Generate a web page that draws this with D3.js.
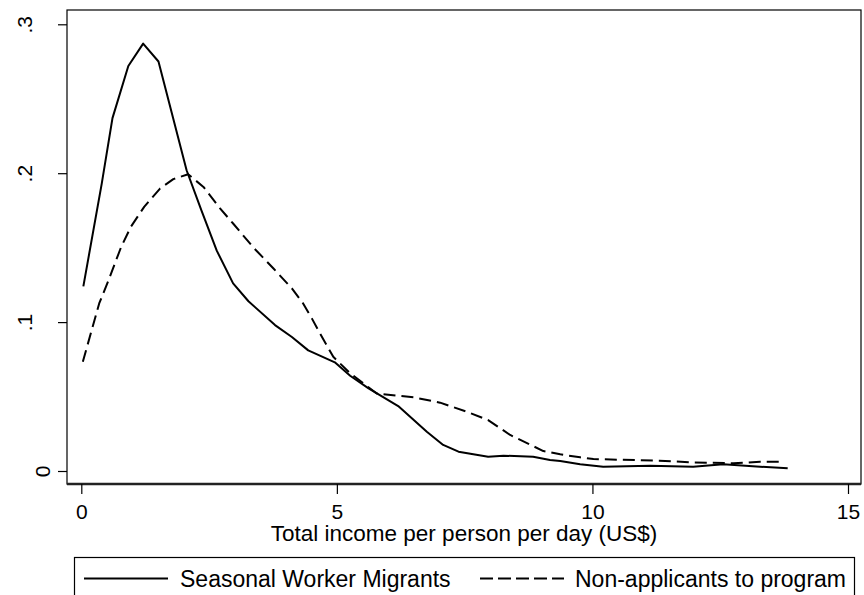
<!DOCTYPE html>
<html>
<head>
<meta charset="utf-8">
<script src="https://cdn.jsdelivr.net/npm/d3@7/dist/d3.min.js"></script>
<style>
  html, body { margin: 0; padding: 0; background: #fff; }
  svg { display: block; font-family: "Liberation Sans", Arial, Helvetica, sans-serif; }
</style>
</head>
<body>
<svg id="chart" width="864" height="595"></svg>
<script>
// Kernel density of total income per person per day (US$)
const swmX = [0.04, 0.40, 0.61, 0.92, 1.21, 1.51, 2.06, 2.35, 2.65, 2.97, 3.27, 3.79, 4.12, 4.44, 4.96, 5.26, 5.62, 6.20, 6.76, 7.08, 7.38, 7.96, 8.26, 8.84, 9.17, 9.37, 9.76, 10.21, 11.13, 11.97, 12.56, 13.28, 13.82];
const swmY = [0.124, 0.193, 0.237, 0.272, 0.287, 0.275, 0.202, 0.175, 0.148, 0.126, 0.114, 0.098, 0.090, 0.081, 0.073, 0.064, 0.0555, 0.0436, 0.0264, 0.0175, 0.013, 0.0096, 0.0103, 0.0096, 0.0074, 0.0067, 0.0045, 0.0029, 0.0036, 0.0029, 0.0045, 0.0029, 0.0018];

const nonX = [0.03, 0.35, 0.52, 0.78, 0.97, 1.23, 1.54, 1.80, 2.09, 2.39, 2.71, 2.97, 3.37, 3.76, 4.12, 4.34, 4.51, 4.67, 4.93, 5.26, 5.78, 6.50, 7.02, 7.54, 7.96, 8.39, 9.04, 9.37, 9.76, 10.02, 11.31, 11.97, 12.76, 13.28, 13.73];
const nonY = [0.0734, 0.1125, 0.127, 0.1505, 0.164, 0.1774, 0.1897, 0.196, 0.1993, 0.1908, 0.1765, 0.1662, 0.150, 0.136, 0.1226, 0.1125, 0.1025, 0.0924, 0.0767, 0.0656, 0.0521, 0.0495, 0.0459, 0.0398, 0.0342, 0.0242, 0.0134, 0.0112, 0.0092, 0.008, 0.0069, 0.0058, 0.0052, 0.0062, 0.0062];

const xTicks = [0, 5, 10, 15];
const yTicks = [0, 0.1, 0.2, 0.3];
const yTickLabels = ["0", ".1", ".2", ".3"];
const seriesNames = ["Seasonal Worker Migrants", "Non-applicants to program"];
const xTitle = "Total income per person per day (US$)";

const svg = d3.select("#chart");

// plot region
const frame = { left: 67, top: 10, right: 861, bottom: 484 };

const x = d3.scaleLinear().domain([0, 15]).range([81.3, 848]);
const y = d3.scaleLinear().domain([0, 0.3]).range([471, 24.3]);

// plot region border
svg.append("rect")
  .attr("x", frame.left).attr("y", frame.top)
  .attr("width", frame.right - frame.left)
  .attr("height", frame.bottom - frame.top)
  .attr("fill", "none").attr("stroke", "#000").attr("stroke-width", 1.2);

// x axis
const xAxis = svg.append("g")
  .attr("transform", `translate(0,${frame.bottom})`)
  .call(d3.axisBottom(x).tickValues(xTicks).tickSize(10).tickPadding(10).tickFormat(d3.format("d")));
xAxis.select(".domain").attr("d", `M${frame.left},0H${frame.right}`).attr("stroke", "#222").attr("stroke-width", 2.4);
xAxis.selectAll(".tick line").attr("stroke", "#000").attr("stroke-width", 1.2);
xAxis.selectAll(".tick text")
  .attr("font-size", 21).attr("fill", "#000")
  .attr("font-family", "Liberation Sans, Arial, sans-serif");

// y axis
const yAxis = svg.append("g")
  .attr("transform", `translate(${frame.left},0)`)
  .call(d3.axisLeft(y).tickValues(yTicks).tickSize(9).tickFormat((d, i) => yTickLabels[i]));
yAxis.select(".domain").remove();
yAxis.selectAll(".tick line").attr("stroke", "#000").attr("stroke-width", 1.2);
yAxis.selectAll(".tick text")
  .attr("font-size", 21).attr("fill", "#000")
  .attr("font-family", "Liberation Sans, Arial, sans-serif")
  .attr("text-anchor", "middle")
  .attr("dy", null)
  .attr("x", null)
  .attr("transform", d => `translate(${d === 0 ? -17 : -35},0) rotate(-90)`);

// x axis title
svg.append("text")
  .attr("x", (frame.left + frame.right) / 2)
  .attr("y", 541)
  .attr("text-anchor", "middle")
  .attr("font-size", 22.5)
  .attr("fill", "#000")
  .text(xTitle);

// density lines
const line = d3.line().x(d => x(d[0])).y(d => y(d[1]));
const swm = swmX.map((v, i) => [v, swmY[i]]);
const non = nonX.map((v, i) => [v, nonY[i]]);

svg.append("path")
  .datum(non)
  .attr("d", line)
  .attr("fill", "none").attr("stroke", "#000")
  .attr("stroke-width", 2).attr("stroke-dasharray", "12,6")
  .attr("stroke-linejoin", "round");

svg.append("path")
  .datum(swm)
  .attr("d", line)
  .attr("fill", "none").attr("stroke", "#000")
  .attr("stroke-width", 2)
  .attr("stroke-linejoin", "round");

// legend
const legend = svg.append("g");
legend.append("rect")
  .attr("x", 74.5).attr("y", 557.5)
  .attr("width", 780).attr("height", 60)
  .attr("fill", "#fff").attr("stroke", "#000").attr("stroke-width", 1.2);

legend.append("line")
  .attr("x1", 84).attr("x2", 168).attr("y1", 578.5).attr("y2", 578.5)
  .attr("stroke", "#000").attr("stroke-width", 2);
legend.append("text")
  .attr("x", 180).attr("y", 587)
  .attr("font-size", 23).attr("fill", "#000")
  .text(seriesNames[0]);

legend.append("line")
  .attr("x1", 480).attr("x2", 564).attr("y1", 578.5).attr("y2", 578.5)
  .attr("stroke", "#000").attr("stroke-width", 2).attr("stroke-dasharray", "13,5");
legend.append("text")
  .attr("x", 575).attr("y", 587)
  .attr("font-size", 23).attr("fill", "#000")
  .text(seriesNames[1]);
</script>
</body>
</html>
